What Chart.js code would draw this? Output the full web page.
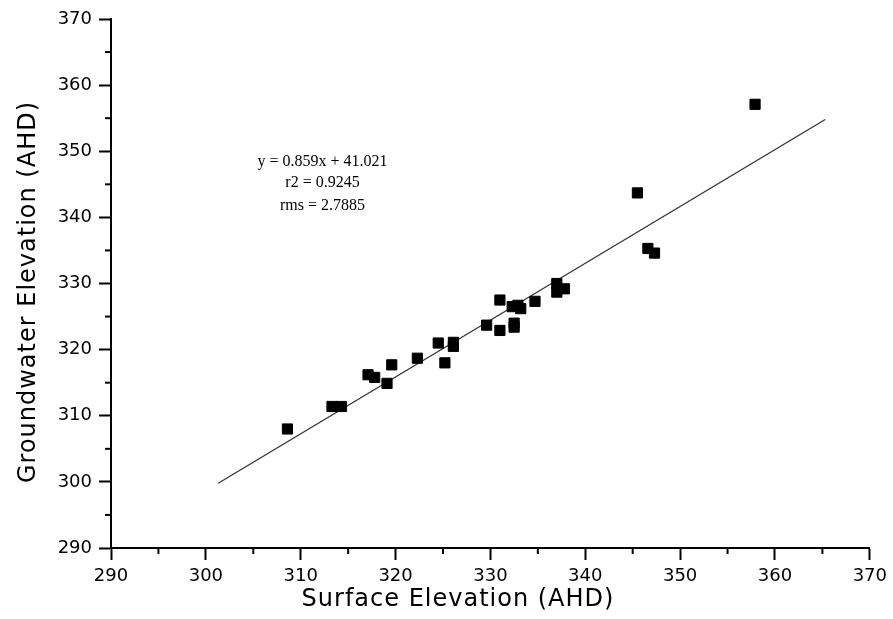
<!DOCTYPE html>
<html>
<head>
<meta charset="utf-8">
<script src="https://cdn.jsdelivr.net/npm/chart.js@4.4.0/dist/chart.umd.min.js"></script>
<style>
html, body { margin: 0; padding: 0; background: #fff; }
</style>
</head>
<body>
<canvas id="elevChart" width="893" height="619"></canvas>
<script>
'use strict';

// bore data
const surfaceElev = [308.6, 313.3, 314.3, 317.1, 317.8, 319.1, 319.6, 322.3, 324.5, 325.2,
	326.1, 326.1, 329.6, 331.0, 331.0, 332.5, 332.5, 332.3, 332.9, 333.2,
	334.7, 337.0, 337.0, 337.8, 345.5, 346.6, 347.3, 357.9];
const groundwaterElev = [308.0, 311.4, 311.4, 316.2, 315.8, 314.9, 317.7, 318.7, 321.0, 318.0,
	320.5, 321.1, 323.7, 327.5, 322.9, 324.0, 323.4, 326.5, 326.7, 326.2,
	327.3, 330.0, 328.7, 329.2, 343.7, 335.3, 334.6, 357.1];

// regression line end points
const fitX = [301.3, 365.3];
const fitY = [299.8, 354.8];

const fitText = ['y = 0.859x + 41.021', 'r2 = 0.9245', 'rms = 2.7885'];
const fitTextX = 312.3;
const fitTextY = [348.4, 345.2, 341.8];

const xTitle = 'Surface Elevation (AHD)';
const yTitle = 'Groundwater Elevation (AHD)';

const axisMin = 290, axisMax = 370;

const minorTicks = {
	id: 'minorTicks',
	afterDraw(chart) {
		const {ctx} = chart;
		const {x, y} = chart.scales;
		ctx.save();
		ctx.strokeStyle = '#000';
		ctx.lineWidth = 2;
		for (let v = axisMin + 5; v < axisMax; v += 10) {
			const px = x.getPixelForValue(v);
			ctx.beginPath();
			ctx.moveTo(px, x.top);
			ctx.lineTo(px, x.top + 6);
			ctx.stroke();
			const py = y.getPixelForValue(v);
			ctx.beginPath();
			ctx.moveTo(y.right - 6, py);
			ctx.lineTo(y.right, py);
			ctx.stroke();
		}
		ctx.restore();
	}
};

// axis titles sit a bit off the plot centre in the original
const axisTitles = {
	id: 'axisTitles',
	afterDraw(chart) {
		const {ctx} = chart;
		ctx.save();
		ctx.fillStyle = '#000';
		ctx.font = '24px "DejaVu Sans", sans-serif';
		ctx.letterSpacing = '1px';
		ctx.textAlign = 'center';
		ctx.textBaseline = 'middle';
		ctx.fillText(xTitle, 458, 600);
		ctx.translate(29, 292);
		ctx.rotate(-Math.PI / 2);
		ctx.fillText(yTitle, 0, 0);
		ctx.restore();
	}
};

const fitLabel = {
	id: 'fitLabel',
	afterDatasetsDraw(chart) {
		const {ctx} = chart;
		const {x, y} = chart.scales;
		ctx.save();
		ctx.fillStyle = '#000';
		ctx.font = '16px "Liberation Serif", serif';
		ctx.textAlign = 'center';
		ctx.textBaseline = 'middle';
		fitText.forEach((t, i) => {
			ctx.fillText(t, x.getPixelForValue(fitTextX), y.getPixelForValue(fitTextY[i]));
		});
		ctx.restore();
	}
};

const points = surfaceElev.map((s, i) => ({x: s, y: groundwaterElev[i]}));
const fitLine = fitX.map((v, i) => ({x: v, y: fitY[i]}));

const tickFont = {family: '"DejaVu Sans", sans-serif', size: 18};

const ctx = document.getElementById('elevChart').getContext('2d');
const myChart = new Chart(ctx, {
	type: 'scatter',
	data: {
		datasets: [
			{
				label: 'bores',
				data: points,
				pointStyle: 'rect',
				pointRadius: 7.2,
				pointHoverRadius: 7.2,
				backgroundColor: '#000',
				borderColor: '#000',
				borderWidth: 1,
			},
			{
				label: 'fit',
				type: 'line',
				data: fitLine,
				borderColor: '#333',
				borderWidth: 1.3,
				pointRadius: 0,
				fill: false,
			},
		],
	},
	options: {
		responsive: false,
		animation: false,
		layout: {padding: {top: 19, right: 21, left: 0, bottom: 0}},
		plugins: {
			legend: {display: false},
			tooltip: {enabled: false},
		},
		scales: {
			x: {
				type: 'linear',
				min: axisMin,
				max: axisMax,
				afterFit: scale => { scale.height = 71; },
				ticks: {stepSize: 10, color: '#000', font: tickFont, padding: 6, maxRotation: 0, autoSkip: false},
				grid: {drawOnChartArea: false, tickLength: 12, tickWidth: 2, tickColor: '#000'},
				border: {color: '#000', width: 2},
			},
			y: {
				type: 'linear',
				min: axisMin,
				max: axisMax,
				afterFit: scale => { scale.width = 111; },
				ticks: {stepSize: 10, color: '#000', font: tickFont, padding: 7, autoSkip: false},
				grid: {drawOnChartArea: false, tickLength: 12, tickWidth: 2, tickColor: '#000'},
				border: {color: '#000', width: 2},
			},
		},
	},
	plugins: [minorTicks, axisTitles, fitLabel],
});
</script>
</body>
</html>
